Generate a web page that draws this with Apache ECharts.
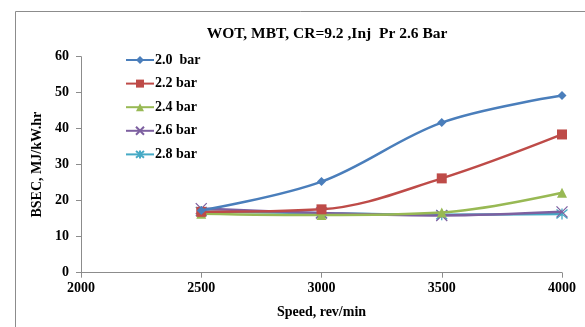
<!DOCTYPE html>
<html>
<head>
<meta charset="utf-8">
<script src="https://cdn.jsdelivr.net/npm/echarts@6/dist/echarts.min.js"></script>
<style>
  html, body { margin: 0; padding: 0; background: #fff; }
  #chart { width: 585px; height: 327px; }
</style>
</head>
<body>
<div id="chart"></div>
<script>
// Engine speed (rev/min) and brake specific energy consumption per injection pressure
const speeds = [2500, 3000, 3500, 4000];
const seriesNames = ['2.0  bar', '2.2 bar', '2.4 bar', '2.6 bar', '2.8 bar'];
const bsec20 = [17.3, 25.3, 41.7, 49.2];
const bsec22 = [16.9, 17.6, 26.2, 38.4];
const bsec24 = [16.4, 16.0, 16.7, 22.2];
const bsec26 = [17.8, 16.6, 15.9, 16.9];
const bsec28 = [17.0, 16.5, 16.1, 16.3];
const xTicks = [2000, 2500, 3000, 3500, 4000];
const yTicks = [0, 10, 20, 30, 40, 50, 60];

const colors = ['#4a7ebb', '#be4b48', '#98b954', '#7d60a0', '#46aac5'];
const crossPath = 'path://M0,0L10,10M10,0L0,10';
const starPath = 'path://M0,0L10,10M10,0L0,10M5,-1L5,11';
const symbols = ['diamond', 'rect', 'triangle', crossPath, starPath];
const symbolSizes = [9, 10, 10, 11, 11];
const allValues = [bsec20, bsec22, bsec24, bsec26, bsec28];

const serif = '"Liberation Serif", "DejaVu Serif", serif';

const series = allValues.map((vals, i) => ({
  name: seriesNames[i],
  type: 'line',
  smooth: 0.35,
  data: speeds.map((s, j) => [s, vals[j]]),
  symbol: symbols[i],
  symbolSize: symbolSizes[i],
  showAllSymbol: true,
  lineStyle: { color: colors[i], width: 2.5 },
  itemStyle: i >= 3
    ? { color: 'rgba(0,0,0,0)', borderColor: colors[i], borderWidth: 1.3 }
    : { color: colors[i] },
  z: 10 - i
}));

const chart = echarts.init(document.getElementById('chart'));
chart.setOption({
  animation: false,
  backgroundColor: '#fff',
  graphic: [{
    type: 'rect',
    shape: { x: 15.5, y: 11.5, width: 700, height: 500 },
    style: { fill: 'none', stroke: '#8c8c8c', lineWidth: 1 },
    silent: true
  }],
  title: {
    text: 'WOT, MBT, CR=9.2 ,Inj  Pr 2.6 Bar',
    left: 322,
    textAlign: 'center',
    top: 21,
    textStyle: { fontFamily: serif, fontWeight: 'bold', fontSize: 15.5, color: '#000' }
  },
  legend: {
    orient: 'vertical',
    left: 125,
    top: 53,
    padding: 0,
    itemWidth: 28,
    itemHeight: 10,
    itemGap: 9.6,
    data: seriesNames,
    textStyle: { fontFamily: serif, fontWeight: 'bold', fontSize: 14, lineHeight: 14, color: '#000', padding: [0, 0, 0, -4] }
  },
  grid: { left: 81, right: 23, top: 56.7, bottom: 54.3 },
  xAxis: {
    type: 'value',
    min: xTicks[0],
    max: xTicks[xTicks.length - 1],
    interval: 500,
    name: 'Speed, rev/min',
    nameLocation: 'middle',
    nameGap: 33,
    nameTextStyle: { fontFamily: serif, fontWeight: 'bold', fontSize: 14, color: '#000' },
    axisLine: { lineStyle: { color: '#8c8c8c' } },
    axisTick: { show: true, length: 5, lineStyle: { color: '#8c8c8c' } },
    axisLabel: { fontFamily: serif, fontWeight: 'bold', fontSize: 14, color: '#000', margin: 9, formatter: v => String(v) },
    splitLine: { show: false }
  },
  yAxis: {
    type: 'value',
    min: yTicks[0],
    max: yTicks[yTicks.length - 1],
    interval: 10,
    name: 'BSEC, MJ/kW.hr',
    nameLocation: 'middle',
    nameGap: 27,
    nameTextStyle: { fontFamily: serif, fontWeight: 'bold', fontSize: 14, color: '#000' },
    axisLine: { show: true, lineStyle: { color: '#8c8c8c' } },
    axisTick: { show: true, length: 5, lineStyle: { color: '#8c8c8c' } },
    axisLabel: { fontFamily: serif, fontWeight: 'bold', fontSize: 14, color: '#000', margin: 12 },
    splitLine: { show: false }
  },
  series: series
});
</script>
</body>
</html>
